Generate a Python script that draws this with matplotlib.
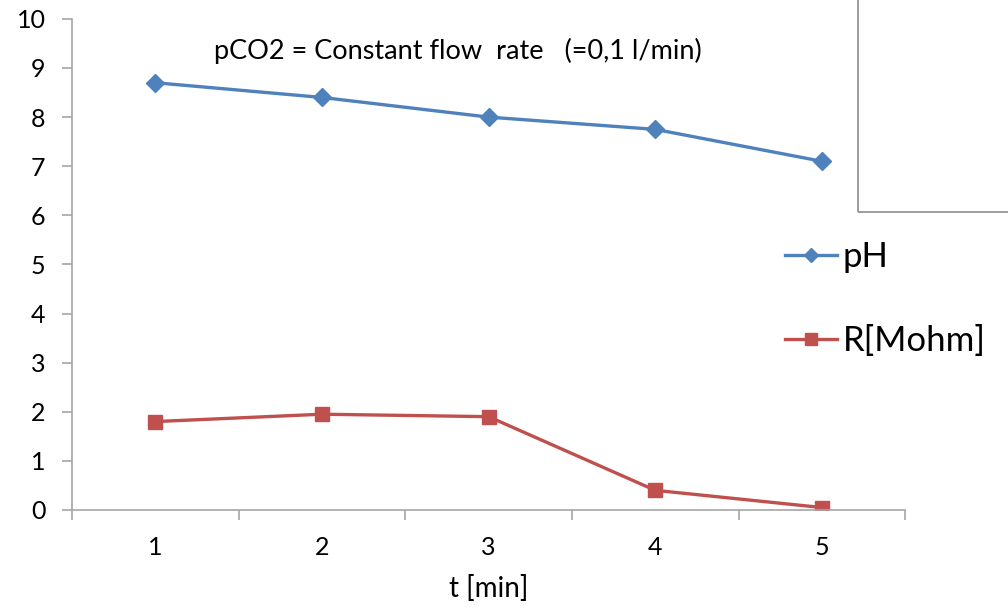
import matplotlib.pyplot as plt
from matplotlib.patches import Rectangle

# data
t_min = [1, 2, 3, 4, 5]
ph = [8.7, 8.4, 8.0, 7.75, 7.1]
r_mohm = [1.8, 1.95, 1.9, 0.4, 0.05]

plt.rcParams['font.family'] = ['Lato', 'DejaVu Sans']

fig = plt.figure(figsize=(10.08, 6.09), dpi=100)
ax = fig.add_axes([0.0714, 0.1626, 0.8266, 0.8064])

ax.plot(t_min, ph, color="#4F81BD", linewidth=2.4, marker='D',
        markersize=9, label="pH")
ax.plot(t_min, r_mohm, color="#C0504D", linewidth=2.4, marker='s',
        markersize=10, label="R[Mohm]")

ax.set_xlim(0.5, 5.5)
ax.set_ylim(0, 10)
ax.set_yticks(range(0, 11))
ax.set_xticks(t_min)
ax.set_xticks([0.5, 1.5, 2.5, 3.5, 4.5, 5.5], minor=True)
ax.tick_params(axis='x', which='major', length=0, pad=19, labelsize=18)
ax.tick_params(axis='x', which='minor', length=7, color="#A6A6A6", width=1.2)
ax.tick_params(axis='y', length=7, color="#A6A6A6", width=1.2, pad=12,
               labelsize=18)

for side in ['top', 'right']:
    ax.spines[side].set_visible(False)
for side in ['left', 'bottom']:
    ax.spines[side].set_color("#A6A6A6")
    ax.spines[side].set_linewidth(1.2)

ax.set_xlabel("t [min]", fontsize=20, labelpad=11)

ax.text(0.463, 0.935, "pCO2 = Constant flow  rate   (=0,1 l/min)",
        transform=ax.transAxes, ha='center', va='center', fontsize=19.5)

# legend to the right, outside the plot area
ax.legend(loc='center left', bbox_to_anchor=(0.856, 0.43), frameon=False,
          fontsize=25, labelspacing=1.5, handlelength=1.5,
          handletextpad=0.15, borderpad=0, borderaxespad=0, markerscale=0.8)

# partially visible box in the top-right corner
fig.patches.append(Rectangle((858 / 1008, 1 - 212 / 609), 0.3, 0.5,
                             transform=fig.transFigure, fill=False,
                             edgecolor="#8C8C8C", linewidth=1.2))

plt.savefig("out.png", dpi=100)
